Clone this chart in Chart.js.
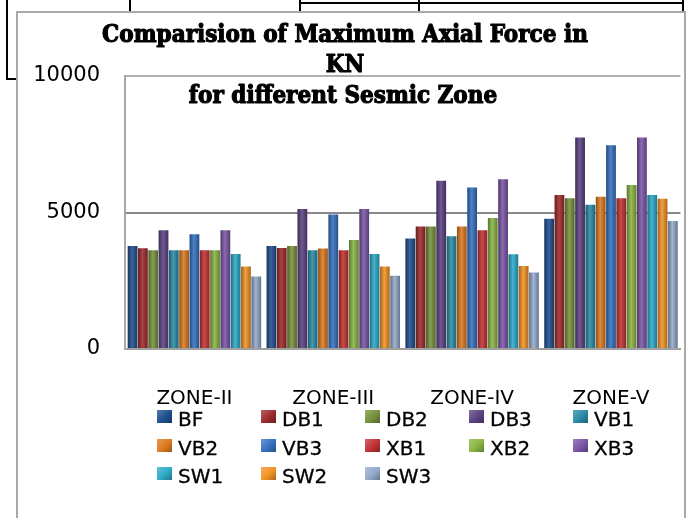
<!DOCTYPE html>
<html lang="en">
<head>
    <meta charset="UTF-8">
    <title>Maximum Axial Force</title>
    <script src="https://cdn.jsdelivr.net/npm/chart.js@4.4.0/dist/chart.umd.min.js"></script>
    <style>
        body { margin: 0; width: 688px; height: 518px; overflow: hidden; background: #fff; position: relative; font-family: "DejaVu Sans", sans-serif; }
        #frame { position: absolute; left: 16px; top: 11px; width: 666px; height: 530px; border: 2px solid #a8a8a8; }
        .ln { position: absolute; background: #000; }
        #wrap { position: absolute; left: 0; top: 0; width: 688px; height: 518px; }
        #legend { position: absolute; left: 157px; top: 405px; display: grid; grid-template-columns: repeat(5, 104px); grid-auto-rows: 28.5px; }
        .item { display: flex; align-items: center; font-size: 20px; color: #000; white-space: nowrap; -webkit-text-stroke: 0.3px #000; }
        .box { width: 15px; height: 13px; margin-right: 6px; margin-top: -5px; }
    </style>
</head>
<body>

    <div class="ln" style="left:6px;top:0;width:2px;height:80px;"></div>
    <div class="ln" style="left:6px;top:78px;width:12px;height:2px;"></div>
    <div class="ln" style="left:129px;top:0;width:2px;height:11px;"></div>
    <div class="ln" style="left:299px;top:0;width:2px;height:11px;"></div>
    <div class="ln" style="left:418px;top:0;width:2px;height:11px;"></div>
    <div class="ln" style="left:682px;top:0;width:2px;height:11px;"></div>
    <div class="ln" style="left:299px;top:2px;width:385px;height:2px;"></div>

    <div id="frame"></div>

    <div id="wrap">
        <canvas id="axialChart" width="688" height="518"></canvas>
    </div>

    <div id="legend"></div>

    <script>

        const zones = ['ZONE-II', 'ZONE-III', 'ZONE-IV', 'ZONE-V'];
        const titleLines = ['Comparision of Maximum Axial Force in', 'KN', 'for different Sesmic Zone'];
        const yTicks = [0, 5000, 10000];

        // values, one array per frame type
        const BF  = [3770, 3770, 4050, 4770];
        const DB1 = [3690, 3700, 4490, 5640];
        const DB2 = [3620, 3770, 4490, 5520];
        const DB3 = [4350, 5130, 6160, 7750];
        const VB1 = [3620, 3620, 4130, 5280];
        const VB2 = [3620, 3680, 4490, 5580];
        const VB3 = [4200, 4930, 5920, 7460];
        const XB1 = [3620, 3620, 4350, 5520];
        const XB2 = [3620, 3990, 4800, 6010];
        const XB3 = [4350, 5130, 6220, 7750];
        const SW1 = [3480, 3480, 3470, 5640];
        const SW2 = [3020, 3020, 3040, 5500];
        const SW3 = [2660, 2680, 2800, 4690];

        const seriesNames = ['BF', 'DB1', 'DB2', 'DB3', 'VB1', 'VB2', 'VB3', 'XB1', 'XB2', 'XB3', 'SW1', 'SW2', 'SW3'];
        const seriesValues = [BF, DB1, DB2, DB3, VB1, VB2, VB3, XB1, XB2, XB3, SW1, SW2, SW3];
        const seriesColors = ['#1f4f8f', '#9e2a2b', '#76923c', '#5c4282', '#2a8ca8', '#dd7a1f', '#3571c0',
                              '#c33234', '#8ab543', '#7b56a6', '#2daac8', '#f39325', '#94aacc'];

        function shade(hex, amt) {
            let r = parseInt(hex.substr(1, 2), 16), g = parseInt(hex.substr(3, 2), 16), b = parseInt(hex.substr(5, 2), 16);
            const f = v => amt < 0 ? Math.round(v * (1 + amt)) : Math.round(v + (255 - v) * amt);
            return 'rgb(' + f(r) + ',' + f(g) + ',' + f(b) + ')';
        }

        // cylinder-ish shading across each bar
        function barFill(c) {
            const base = seriesColors[c.datasetIndex];
            const el = c.element;
            if (!el || !isFinite(el.x) || !el.width) return base;
            const g = c.chart.ctx.createLinearGradient(el.x - el.width / 2, 0, el.x + el.width / 2, 0);
            g.addColorStop(0, shade(base, -0.35));
            g.addColorStop(0.45, shade(base, 0.12));
            g.addColorStop(1, shade(base, -0.3));
            return g;
        }

        const titlePlugin = {
            id: 'titleLines',
            afterDraw(chart) {
                const c = chart.ctx;
                c.save();
                c.fillStyle = '#000';
                c.strokeStyle = '#000';
                c.lineWidth = 1.1;
                c.lineJoin = 'round';
                c.textAlign = 'center';
                c.textBaseline = 'alphabetic';
                c.font = 'bold 24px "DejaVu Serif Condensed", "DejaVu Serif", serif';
                const pos = [[345, 42], [345, 72], [343, 103]];
                titleLines.forEach((t, i) => {
                    c.fillText(t, pos[i][0], pos[i][1]);
                    c.strokeText(t, pos[i][0], pos[i][1]);
                });
                c.restore();
            }
        };

        const datasets = [];
        for (let i = 0; i < seriesNames.length; i++) {
            datasets.push({
                label: seriesNames[i],
                data: seriesValues[i],
                backgroundColor: barFill,
                borderWidth: 0,
                barPercentage: 0.95,
                categoryPercentage: 0.965
            });
        }

        const ctx = document.getElementById('axialChart').getContext('2d');
        const axialChart = new Chart(ctx, {
            type: 'bar',
            data: { labels: zones, datasets: datasets },
            plugins: [titlePlugin],
            options: {
                responsive: false,
                animation: false,
                layout: { padding: { left: 0, top: 76, right: 5, bottom: 0 } },
                plugins: {
                    legend: { display: false },
                    tooltip: { enabled: false }
                },
                scales: {
                    x: {
                        afterFit: s => { s.height = 169; },
                        grid: { display: false, drawTicks: false },
                        border: { color: '#a0a0a0', width: 2 },
                        ticks: { color: '#000', padding: 38, font: { family: 'DejaVu Sans', size: 20 } }
                    },
                    y: {
                        min: 0,
                        max: 10000,
                        afterFit: s => { s.width = 125; },
                        afterBuildTicks: s => { s.ticks = yTicks.map(v => ({ value: v })); },
                        grid: {
                            drawTicks: false,
                            color: c => c.tick && c.tick.value === 5000 ? '#8a8a8a' : '#b0b0b0',
                            lineWidth: 2
                        },
                        border: { color: '#a8a8a8', width: 2 },
                        ticks: {
                            color: '#000',
                            padding: 25,
                            font: { family: 'DejaVu Sans', size: 21 },
                            callback: v => String(v)
                        }
                    }
                }
            }
        });

        axialChart.update();

        // legend in five fixed columns
        const legend = document.getElementById('legend');
        axialChart.data.datasets.forEach((ds, i) => {
            const col = seriesColors[i];
            const item = document.createElement('div');
            item.className = 'item';
            item.innerHTML = '<span class="box" style="background:linear-gradient(135deg,' + shade(col, 0.25) + ',' + col + ' 55%,' + shade(col, -0.3) + ');"></span>' + ds.label;
            legend.appendChild(item);
        });

    </script>

</body>
</html>
